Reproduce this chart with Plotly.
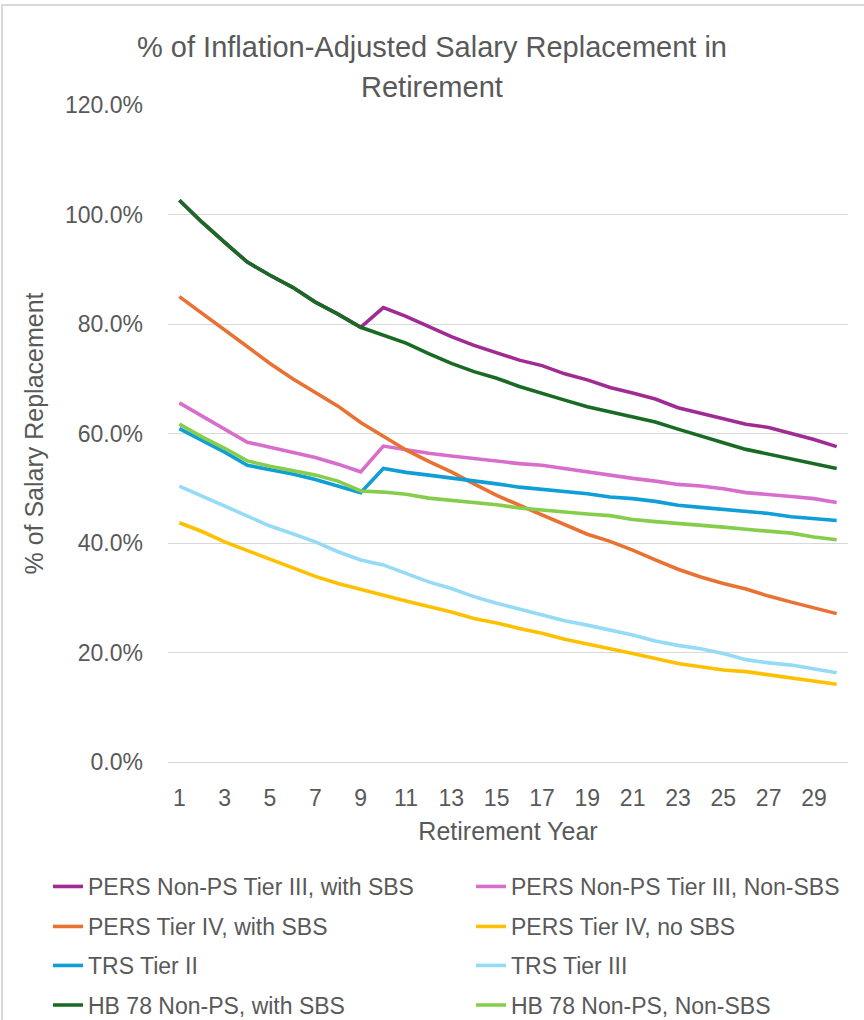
import plotly.graph_objects as go

# Retirement years on the category axis
years = list(range(1, 31))
tick_years = list(range(1, 30, 2))

# % of inflation-adjusted salary replaced, by retirement year
hb78_sbs = [102.6, 98.6, 94.9, 91.3, 88.9, 86.7, 84.0, 81.8, 79.4, 77.9,
            76.5, 74.6, 72.8, 71.3, 70.1, 68.6, 67.3, 66.1, 64.9, 64.0,
            63.1, 62.1, 60.8, 59.5, 58.3, 57.1, 56.2, 55.4, 54.5, 53.6]
pers_t3_sbs = [102.6, 98.6, 94.9, 91.3, 88.9, 86.7, 84.0, 81.8, 79.4, 83.0,
               81.4, 79.6, 77.7, 76.1, 74.7, 73.4, 72.4, 70.9, 69.8, 68.4,
               67.4, 66.3, 64.7, 63.7, 62.8, 61.7, 61.1, 60.0, 58.9, 57.6]
pers_t3_nonsbs = [65.6, 63.2, 60.7, 58.4, 57.5, 56.6, 55.6, 54.4, 53.0, 57.7,
                  57.0, 56.4, 55.9, 55.4, 55.0, 54.5, 54.2, 53.6, 53.0, 52.3,
                  51.8, 51.3, 50.7, 50.4, 49.9, 49.2, 48.9, 48.5, 48.1, 47.4]
pers_t4_sbs = [85.0, 81.9, 78.8, 75.8, 72.8, 70.0, 67.5, 65.0, 62.0, 59.5,
               57.0, 54.9, 53.0, 50.8, 48.7, 46.9, 45.1, 43.3, 41.6, 40.3,
               38.7, 36.9, 35.2, 33.8, 32.6, 31.6, 30.3, 29.2, 28.2, 27.1]
pers_t4_nosbs = [43.7, 42.1, 40.2, 38.6, 37.0, 35.5, 33.9, 32.6, 31.5, 30.5,
                 29.4, 28.4, 27.4, 26.2, 25.4, 24.4, 23.5, 22.4, 21.6, 20.7,
                 19.8, 18.9, 18.0, 17.4, 16.8, 16.5, 15.9, 15.3, 14.8, 14.2]
trs_t2 = [60.9, 58.8, 56.6, 54.2, 53.4, 52.6, 51.6, 50.4, 49.2, 53.6,
          52.9, 52.4, 51.9, 51.4, 50.8, 50.2, 49.8, 49.5, 49.0, 48.4,
          48.1, 47.6, 46.9, 46.5, 46.1, 45.8, 45.4, 44.8, 44.4, 44.1]
trs_t3 = [50.4, 48.6, 46.7, 44.9, 43.1, 41.7, 40.2, 38.4, 36.9, 36.0,
          34.5, 32.9, 31.7, 30.2, 29.0, 27.9, 26.9, 25.8, 25.0, 24.1,
          23.2, 22.1, 21.3, 20.7, 19.8, 18.7, 18.1, 17.7, 17.0, 16.3]
hb78_nonsbs = [61.7, 59.4, 57.3, 55.0, 54.0, 53.2, 52.4, 51.3, 49.5, 49.3,
               48.9, 48.2, 47.8, 47.3, 47.0, 46.4, 46.0, 45.7, 45.3, 45.0,
               44.3, 43.9, 43.6, 43.2, 42.9, 42.5, 42.2, 41.8, 41.1, 40.6]

series_names = [
    "PERS Non-PS Tier III, with SBS",
    "PERS Non-PS Tier III, Non-SBS",
    "PERS Tier IV, with SBS",
    "PERS Tier IV, no SBS",
    "TRS Tier II",
    "TRS Tier III",
    "HB 78 Non-PS, with SBS",
    "HB 78 Non-PS, Non-SBS",
]
series_values = [pers_t3_sbs, pers_t3_nonsbs, pers_t4_sbs, pers_t4_nosbs,
                 trs_t2, trs_t3, hb78_sbs, hb78_nonsbs]
series_colors = ["#A02B93", "#D86ECC", "#E97132", "#FFC000",
                 "#0F9ED5", "#95DBF6", "#196B24", "#86CD4C"]

FONT = "Liberation Sans, Arial, sans-serif"
TEXT = "#595959"
GRID = "#D9D9D9"

W, H = 864, 1020
L, R, T, B = 168, 16, 105, 258
PW, PH = W - L - R, H - T - B


def px_x(x):
    return (x - L) / PW


def px_y(y):
    return (H - B - y) / PH


fig = go.Figure()
legend_ids = ["legend", "legend2", "legend3", "legend4"]
for i, (name, vals, col) in enumerate(zip(series_names, series_values, series_colors)):
    fig.add_trace(go.Scatter(
        x=years, y=vals, name=name, mode="lines",
        line=dict(color=col, width=3.6),
        legend=legend_ids[i // 2],
        hoverinfo="skip",
    ))

# Two-column legend below the plot, one legend box per row
row_centers = [886.5, 926.5, 965.5, 1005]
legend_common = dict(
    orientation="h", xref="paper", yref="paper",
    x=px_x(48), xanchor="left", yanchor="middle",
    font=dict(family=FONT, size=23, color=TEXT),
    entrywidth=378, entrywidthmode="pixels",
    bgcolor="rgba(0,0,0,0)", itemwidth=30, traceorder="normal",
)
legends = {}
for lid, yc in zip(legend_ids, row_centers):
    legends[lid] = dict(legend_common, y=px_y(yc))

fig.update_layout(
    width=W, height=H,
    margin=dict(l=L, r=R, t=T, b=B, autoexpand=False),
    paper_bgcolor="white", plot_bgcolor="white",
    font=dict(family=FONT, color=TEXT),
    showlegend=True,
    **legends,
)

fig.update_xaxes(
    range=[0.5, 30.5],
    tickmode="array", tickvals=tick_years, ticktext=[str(v) for v in tick_years],
    showgrid=False, zeroline=False, showline=False, ticks="",
    tickfont=dict(family=FONT, size=23, color=TEXT),
    ticklabelstandoff=20,
    title=dict(text="Retirement Year", font=dict(family=FONT, size=25, color=TEXT), standoff=12),
    automargin=False,
)
fig.update_yaxes(
    range=[0, 120], tickmode="linear", tick0=0, dtick=20,
    tickformat=".1f", ticksuffix="%",
    showgrid=True, gridcolor=GRID, gridwidth=1.3,
    zeroline=True, zerolinecolor=GRID, zerolinewidth=1.3,
    showline=False, ticks="",
    tickfont=dict(family=FONT, size=23, color=TEXT),
    ticklabelstandoff=24,
    title=dict(text="% of Salary Replacement", font=dict(family=FONT, size=25, color=TEXT), standoff=14),
    automargin=False,
)

# Chart title on two lines
title_lines = ["% of Inflation-Adjusted Salary Replacement in", "Retirement"]
for txt, yc in zip(title_lines, [47, 87]):
    fig.add_annotation(
        text=txt, xref="paper", yref="paper",
        x=px_x(432), y=px_y(yc),
        xanchor="center", yanchor="middle", showarrow=False,
        font=dict(family=FONT, size=29, color=TEXT),
    )

# Chart-area frame (left and top edges visible)
fig.add_shape(
    type="rect", xref="paper", yref="paper",
    x0=px_x(2), x1=px_x(W + 10),
    y0=px_y(H + 10), y1=px_y(5),
    line=dict(color=GRID, width=2), fillcolor="rgba(0,0,0,0)", layer="below",
)

fig.write_html("out.html")
